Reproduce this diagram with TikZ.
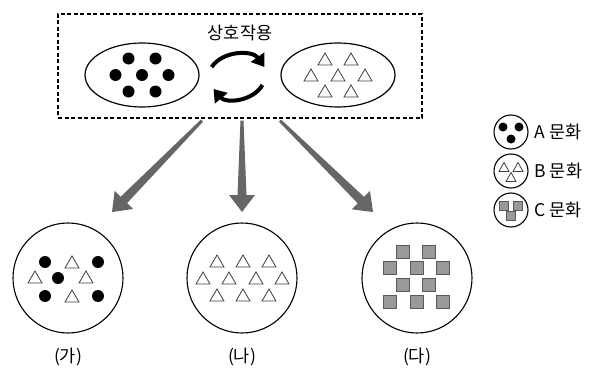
\documentclass[tikz,border=0pt]{standalone}
\usepackage{fontspec}
\setmainfont{Noto Sans CJK KR}
\usetikzlibrary{shapes.geometric,calc,positioning,arrows.meta}

\begin{document}
\begin{tikzpicture}[x=1pt,y=1pt]
	\tikzstyle{frame}=[draw=black,line width=1.2pt,dash pattern=on 4pt off 2.5pt,minimum width=364pt,minimum height=104pt]
	\tikzstyle{group}=[ellipse,draw=black,line width=1.2pt,minimum width=114pt,minimum height=64pt]
	\tikzstyle{society}=[circle,draw=black,line width=1.1pt,minimum size=110pt]
	\tikzstyle{key}=[circle,draw=black,line width=1.1pt,minimum size=34pt]
	\tikzstyle{dot}=[fill=black]
	\tikzstyle{tri}=[draw=black!75,fill=white,line width=0.8pt,line join=miter]
	\tikzstyle{sq}=[draw=black!65,fill=black!40,line width=0.6pt]
	\tikzstyle{swap}=[draw,line width=4pt,-{Triangle[length=12pt,width=16pt]}]
	\tikzstyle{spread}=[fill=black!60]
	\tikzstyle{lbl}=[font=\fontsize{17.5}{17.5}\selectfont]
	\useasboundingbox (0,0) rectangle (590,368);
	% top box
	\node [frame] (box) at (240,302) {};
	\node [lbl] (title) at (240,335) {상호작용};
	\node [group] (le) at (142,293) {};
	\node [group] (re) at (338,293) {};
	\foreach \x/\y in {-13.5/16.5,13.5/16.5,-26.5/0,0/0,26.5/0,-13.5/-16.5,13.5/-16.5}
		\fill [dot] ($(le)+(\x,\y)$) circle (6pt);
	\foreach \x/\y in {-13/16,13/16,-27/0,0/0,27/0,-13/-16,13/-16}
		\draw [tri] ($(re)+(\x,\y)$) ++(-7,-6) -- ++(14,0) -- ++(-7,12) -- cycle;
	\path [swap] ([shift={(12,8)}]le.east) to [bend left=55] ([shift={(-16,8)}]re.west);
	\path [swap] ([shift={(-18,-10)}]re.west) to [bend left=55] ([shift={(14,-14)}]le.east);
	% three societies
	\node [society] (ga) at (68,90) {};
	\node [society] (na) at (242,90) {};
	\node [society] (da) at (417,90) {};
	\node [lbl] (gal) at (68,11) {(가)};
	\node [lbl] (nal) at (242,11) {(나)};
	\node [lbl] (dal) at (417,11) {(다)};
	\foreach \x/\y in {-23/16,30/16,-10/0,-23/-18,30/-18}
		\fill [dot] ($(ga)+(\x,\y)$) circle (6pt);
	\foreach \x/\y in {4/16,-33/1,18/1,4/-18}
		\draw [tri] ($(ga)+(\x,\y)$) ++(-7,-6) -- ++(14,0) -- ++(-7,12) -- cycle;
	\foreach \x/\y in {-25/17,1/17,27/17,-39/0,-13/0,14/0,40/0,-25/-17,1/-17,27/-17}
		\draw [tri] ($(na)+(\x,\y)$) ++(-7,-6) -- ++(14,0) -- ++(-7,12) -- cycle;
	\foreach \x/\y in {-14/26,12/26,-27/10,0/10,26/10,-14/-7,12/-7,-27/-24,0/-24,26/-24}
		\draw [sq] ($(da)+(\x,\y)$) ++(-6.5,-6.5) rectangle ++(13,13);
	% spreading arrows
	\coordinate (s1) at ($(box.south)+(-38,-2)$);
	\coordinate (s2) at ($(box.south)+(2,-2)$);
	\coordinate (s3) at ($(box.south)+(40,-2)$);
	\coordinate (t1) at (112,156);
	\coordinate (t2) at (242,156);
	\coordinate (t3) at (373,156);
	\foreach \s/\t in {s1/t1,s2/t2,s3/t3} {
		\coordinate (h) at ($(\t)!17pt!(\s)$);
		\fill [spread] ($(\s)!1.5pt!90:(\t)$) -- ($(h)!4.5pt!90:(\t)$) -- ($(h)!13pt!90:(\t)$)
			-- (\t) -- ($(h)!13pt!-90:(\t)$) -- ($(h)!4.5pt!-90:(\t)$) -- ($(\s)!1.5pt!-90:(\t)$) -- cycle;
	}
	% legend
	\node [key] (ka) at (511,236) {};
	\node [key] (kb) at (511,197) {};
	\node [key] (kc) at (511,158) {};
	\foreach \x/\y in {-8/5,8/5,0/-7}
		\fill [dot] ($(ka)+(\x,\y)$) circle (4.5pt);
	\foreach \x/\y in {-7/4,7/4,0/-6}
		\draw [tri] ($(kb)+(\x,\y)$) ++(-5,-4.5) -- ++(10,0) -- ++(-5,9) -- cycle;
	\foreach \x/\y in {-7/4,7/4,0/-6}
		\draw [sq] ($(kc)+(\x,\y)$) ++(-4.5,-4.5) rectangle ++(9,9);
	\node [lbl,anchor=west] (ta) at (531,236) {A 문화};
	\node [lbl,anchor=west] (tb) at (531,197) {B 문화};
	\node [lbl,anchor=west] (tc) at (531,158) {C 문화};
\end{tikzpicture}
\end{document}
